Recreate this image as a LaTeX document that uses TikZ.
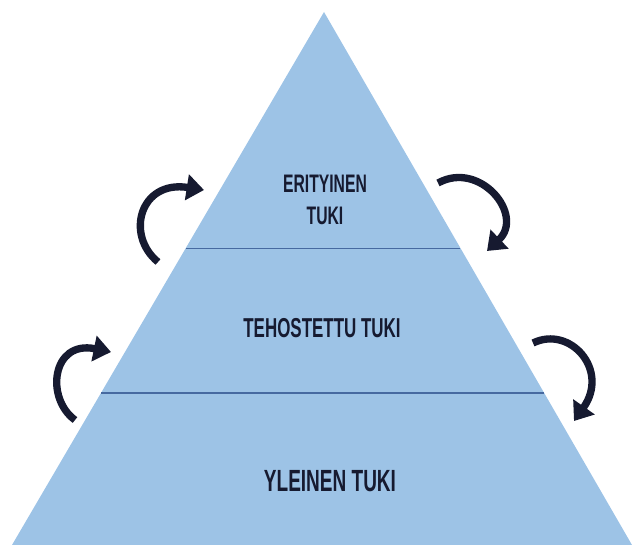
\documentclass[tikz,border=0pt]{standalone}
\usepackage{fontspec}
\newfontfamily\tukifont[FakeStretch=0.62]{Liberation Sans}
\usetikzlibrary{calc,arrows.meta}
\definecolor{pyramidi}{RGB}{157,195,230}
\definecolor{tasoviiva}{RGB}{70,105,160}
\definecolor{nuoli}{RGB}{22,26,48}
\tikzset{
  taso/.style={text=nuoli, align=center},
  kierto/.style={line width=5.5pt, nuoli, -{Triangle[length=13pt,width=19pt]}},
}

\begin{document}
\begin{tikzpicture}[x=0.75pt,y=-0.75pt]
  \useasboundingbox (0,0) rectangle (638,545);
  % Pyramidi
  \coordinate (apex) at (324,12);
  \coordinate (bl) at (12,545);
  \coordinate (br) at (632,545);
  \fill[pyramidi] (apex) -- (bl) -- (br) -- cycle;
  % Tasojen rajat
  \coordinate (raja1v) at ($(apex)!0.443!(bl)$);
  \coordinate (raja1o) at ($(apex)!0.443!(br)$);
  \coordinate (raja2v) at ($(apex)!0.715!(bl)$);
  \coordinate (raja2o) at ($(apex)!0.715!(br)$);
  \draw[tasoviiva, line width=0.9pt] (raja1v) -- (raja1o);
  \draw[tasoviiva, line width=0.9pt] (raja2v) -- (raja2o);
  % Tekstit
  \node[taso, font=\tukifont\bfseries\fontsize{19}{24}\selectfont] (erityinen) at (325,200) {ERITYINEN\\TUKI};
  \node[taso, font=\tukifont\bfseries\fontsize{20.5}{24}\selectfont] (tehostettu) at (322,328) {TEHOSTETTU TUKI};
  \node[taso, font=\tukifont\bfseries\fontsize{23}{28}\selectfont] (yleinen) at (330,481) {YLEINEN TUKI};
  % Nuolet
  \draw[kierto] (158,262) .. controls (125,235) and (140,180) .. (204,190);
  \draw[kierto] (438,183) .. controls (480,160) and (525,215) .. (487,251);
  \draw[kierto] (75,420) .. controls (45,398) and (52,340) .. (111,352);
  \draw[kierto] (533,343) .. controls (570,325) and (610,370) .. (574,421);
\end{tikzpicture}
\end{document}
